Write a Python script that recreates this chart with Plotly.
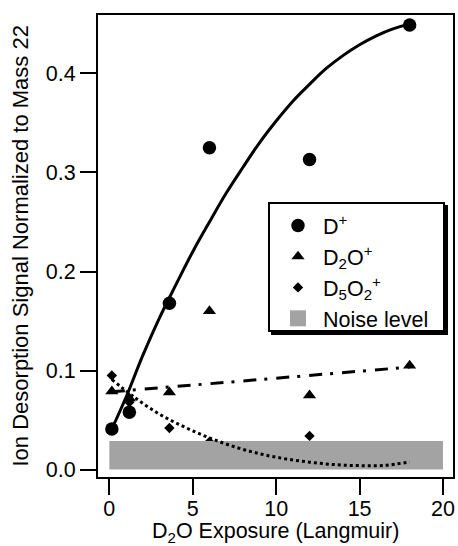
import plotly.graph_objects as go

# ---- data ----
exposure = [0.15, 1.2, 3.6, 6, 12, 18]
d_plus = [0.041, 0.058, 0.168, 0.325, 0.313, 0.449]
d2o_plus = [0.079, 0.072, 0.078, 0.160, 0.075, 0.105]
d5o2_x = [0.15, 1.2, 3.6, 6, 12, 18]
d5o2_plus = [0.095, 0.068, 0.042, 0.028, 0.034, 0.012]

# fitted curves as drawn in the reference
fit_d_x = [0.15, 1, 2, 3, 4, 5, 6, 7, 8, 9, 10, 11, 12, 13, 14, 15, 16, 17, 18]
fit_d_y = [0.041, 0.073, 0.115, 0.153, 0.187, 0.220, 0.250, 0.279, 0.305, 0.330,
           0.352, 0.372, 0.389, 0.405, 0.418, 0.429, 0.438, 0.445, 0.450]
fit_d2o_x = [0.15, 18]
fit_d2o_y = [0.0785, 0.1035]
fit_d5o2_x = [0.15, 1.5, 3, 4.5, 6, 7.5, 9, 10.5, 12, 13.5, 15, 16.5, 18]
fit_d5o2_y = [0.091, 0.073, 0.056, 0.043, 0.032, 0.023, 0.016, 0.011, 0.0075,
              0.005, 0.004, 0.0042, 0.0078]

noise_x = [0, 20]
noise_level = 0.0288

x_ticks = [0, 5, 10, 15, 20]
y_ticks = [0.0, 0.1, 0.2, 0.3, 0.4]

x_title = "D<sub>2</sub>O Exposure (Langmuir)"
y_title = "Ion Desorption Signal Normalized to Mass 22"

FONT = "Liberation Sans, Arial, Helvetica, sans-serif"
GREY = "#a3a3a3"

W, H = 458, 546
ML, MR, MT, MB = 98, 5, 15, 69
PW, PH = W - ML - MR, H - MT - MB


def px_x(p):
    return (p - ML) / PW


def px_y(p):
    return 1 - (p - MT) / PH


fig = go.Figure()

fig.add_trace(go.Scatter(x=fit_d_x, y=fit_d_y, mode="lines", line=dict(color="black", width=3, shape="spline"),
                         showlegend=False, hoverinfo="skip"))
fig.add_trace(go.Scatter(x=exposure, y=d_plus, mode="markers", name="D<sup>+</sup>", legendrank=1,
                         marker=dict(symbol="circle", size=13.5, color="black")))
fig.add_trace(go.Scatter(x=exposure, y=d2o_plus, mode="markers", name="D<sub>2</sub>O<sup>+</sup>", legendrank=2,
                         marker=dict(symbol="triangle-up", size=11.5, color="black")))
fig.add_trace(go.Scatter(x=d5o2_x, y=d5o2_plus, mode="markers", name="D<sub>5</sub>O<sub>2</sub><sup>+</sup>",
                         legendrank=3, marker=dict(symbol="diamond", size=8, color="black")))
fig.add_trace(go.Scatter(x=[noise_x[0], noise_x[1], noise_x[1], noise_x[0], noise_x[0]],
                         y=[0, 0, noise_level, noise_level, 0], mode="lines", fill="toself",
                         fillcolor=GREY, line=dict(width=0, color=GREY), showlegend=False, hoverinfo="skip"))
# legend swatch for the noise band
fig.add_trace(go.Scatter(x=[None], y=[None], mode="markers", name="Noise level", legendrank=4,
                         marker=dict(symbol="square", size=20, color=GREY)))
fig.add_trace(go.Scatter(x=fit_d2o_x, y=fit_d2o_y, mode="lines",
                         line=dict(color="black", width=3, dash="13px,8px,3px,9px"),
                         showlegend=False, hoverinfo="skip"))
fig.add_trace(go.Scatter(x=fit_d5o2_x, y=fit_d5o2_y, mode="lines",
                         line=dict(color="black", width=3, dash="dot", shape="spline"),
                         showlegend=False, hoverinfo="skip"))

# legend frame with drop shadow (legend entries drawn on top)
fig.add_shape(type="rect", xref="paper", yref="paper",
              x0=px_x(271), x1=px_x(448), y0=px_y(335), y1=px_y(205),
              fillcolor="black", line=dict(width=0), layer="above")
fig.add_shape(type="rect", xref="paper", yref="paper",
              x0=px_x(269), x1=px_x(444), y0=px_y(331), y1=px_y(203),
              fillcolor="white", line=dict(width=2, color="black"), layer="above")

fig.add_annotation(text=x_title, xref="paper", yref="paper", x=px_x(275.5), y=px_y(532),
                   xanchor="center", yanchor="middle", showarrow=False, font=dict(size=21.5))
fig.add_annotation(text=y_title, xref="paper", yref="paper", x=px_x(19.5), y=px_y(246),
                   xanchor="center", yanchor="middle", textangle=-90, showarrow=False, font=dict(size=22))

fig.update_layout(
    template="none",
    width=W, height=H,
    margin=dict(l=ML, r=MR, t=MT, b=MB),
    paper_bgcolor="white", plot_bgcolor="white",
    font=dict(family=FONT, size=21.5, color="black"),
    legend=dict(x=px_x(273), y=px_y(205), xanchor="left", yanchor="top",
                bgcolor="rgba(0,0,0,0)", borderwidth=0,
                font=dict(size=21.5), tracegroupgap=0, itemwidth=40),
)
fig.update_xaxes(range=[-0.68, 20.6], tickvals=x_ticks, ticktext=[str(v) for v in x_ticks],
                 showline=True, linecolor="black", linewidth=2, mirror=True,
                 ticks="outside", ticklen=16, tickwidth=2, tickcolor="black",
                 showgrid=False, zeroline=False, ticklabelstandoff=-5, automargin=False)
fig.update_yaxes(range=[-0.0075, 0.459], tickvals=y_ticks, ticktext=[f"{v:.1f}" for v in y_ticks],
                 showline=True, linecolor="black", linewidth=2, mirror=True,
                 ticks="outside", ticklen=16, tickwidth=2, tickcolor="black",
                 showgrid=False, zeroline=False, automargin=False)

fig.write_html("out.html", config={"displayModeBar": False},
               post_script="document.body.style.margin='0px';")
